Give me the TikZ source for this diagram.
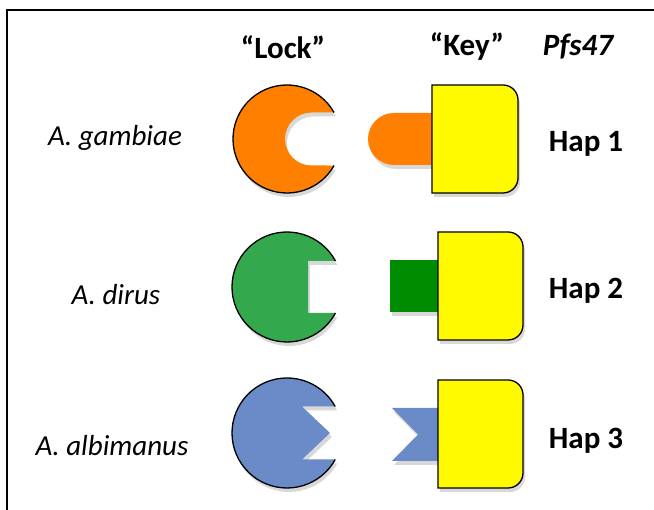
\documentclass[tikz,border=0pt]{standalone}
\usepackage{fontspec}
\setmainfont{Carlito}
\usetikzlibrary{shadows}
\definecolor{lorange}{RGB}{255,127,0}
\definecolor{lgreen}{RGB}{52,168,76}
\definecolor{kgreen}{RGB}{0,140,0}
\definecolor{lblue}{RGB}{106,138,200}
\definecolor{kyellow}{RGB}{255,250,0}
\tikzset{
  shad/.style={drop shadow={opacity=0.3,shadow xshift=2pt,shadow yshift=-4pt}},
  outline/.style={line width=1.3pt,draw=black},
  hdr/.style={font=\fontsize{31}{36}\selectfont\bfseries},
  spc/.style={font=\fontsize{29}{34}\selectfont\itshape},
  hap/.style={font=\fontsize{31}{36}\selectfont\bfseries},
}
\begin{document}
\begin{tikzpicture}[x=1pt,y=1pt]
\useasboundingbox (0,0) rectangle (654,510);
\fill[white] (0,0) rectangle (654,510);
% frame
\draw[line width=1.8pt] (7,-10) -- (7,500) -- (670,500);
% headers
\node[hdr] (lock) at (283,463) {“Lock”};
\node[hdr] (key) at (467,463) {“Key”};
\node[hdr,font=\fontsize{31}{36}\selectfont\bfseries\itshape] (pfs) at (578,463) {Pfs47};
% species
\node[spc] (sp1) at (115,372) {A. gambiae};
\node[spc] (sp2) at (116,215) {A. dirus};
\node[spc] (sp3) at (112,64) {A. albimanus};
% haps
\node[hap] (h1) at (586,366) {Hap 1};
\node[hap] (h2) at (586,219) {Hap 2};
\node[hap] (h3) at (586,69) {Hap 3};
% ---- row 1 (orange)
\fill[lorange,shad] (334.05,397.5) arc (29.4:330.6:54) -- (311.5,344.5) arc (270:90:26.5) -- cycle;
\draw[line width=1.3pt] (334.05,397.5) arc (29.4:330.6:54);
\fill[lorange,shad] (440,397) -- (394,397) arc (90:270:26) -- (440,345) -- cycle;
\filldraw[fill=kyellow,outline,shad] (432,317) -- (503,317) arc (-90:0:15) -- (518,410) arc (0:90:15) -- (432,425) -- cycle;
% ---- row 2 (green)
\fill[lgreen,shad] (335.47,249) arc (28.21:331.79:55) -- (308,197) -- (308,249) -- cycle;
\draw[line width=1.3pt] (335.47,249) arc (28.21:331.79:55);
\fill[kgreen,shad] (390,198) rectangle (444,250);
\filldraw[fill=kyellow,outline,shad] (438,170) -- (508,170) arc (-90:0:15) -- (523,263) arc (0:90:15) -- (438,278) -- cycle;
% ---- row 3 (blue)
\fill[lblue,shad] (335.2,103.5) arc (28.8:331.2:55) -- (302,50.5) -- (330,77) -- (302,103.5) -- cycle;
\draw[line width=1.3pt] (335.2,103.5) arc (28.8:331.2:55);
\fill[lblue,shad] (392,102) -- (444,102) -- (444,49) -- (392,49) -- (418,75.5) -- cycle;
\filldraw[fill=kyellow,outline,shad] (438,22) -- (508,22) arc (-90:0:15) -- (523,115) arc (0:90:15) -- (438,130) -- cycle;
\end{tikzpicture}
\end{document}
